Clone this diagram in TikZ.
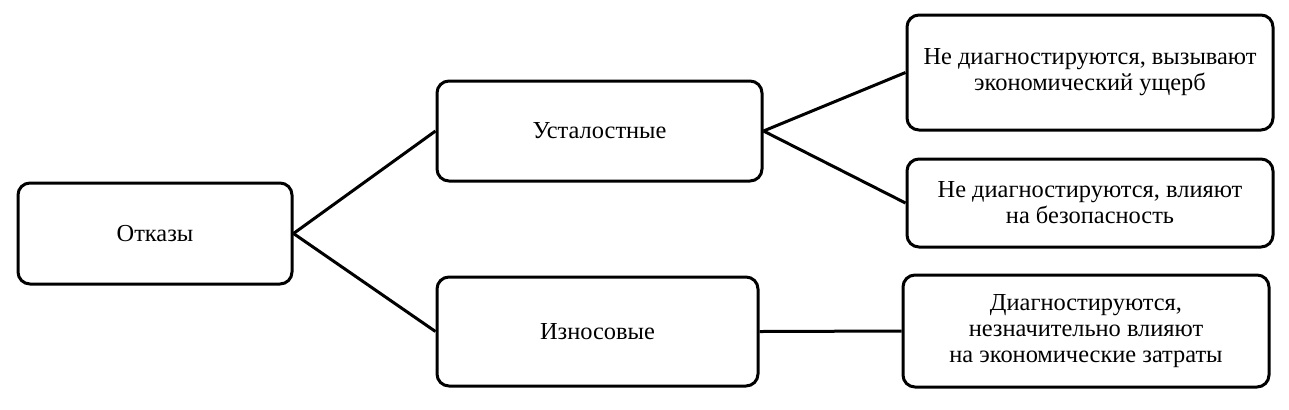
\documentclass[tikz,border=0pt]{standalone}
\usepackage{fontspec}
\setmainfont{Liberation Serif}

\begin{document}
\begin{tikzpicture}[x=0.5pt, y=-0.5pt, line width=1.5pt,
                    font=\fontsize{12.2}{13}\selectfont,
                    box/.style={draw, rectangle, rounded corners=6pt, align=center, inner sep=0pt}]
                    \useasboundingbox (0,0) rectangle (1289,409);
                    \node[box, minimum width=137pt, minimum height=50.5pt] (otkazy) at (155,233.5) {Отказы};
                    \node[box, minimum width=162.5pt, minimum height=50pt] (ustal) at (599.5,131) {Усталостные};
                    \node[box, minimum width=160.5pt, minimum height=54.5pt] (iznos) at (597.5,331.5) {Износовые};
                    \node[box, minimum width=183pt, minimum height=57.5pt] (ushcherb) at (1090,72.5) {Не диагностируются, вызывают\\экономический ущерб};
                    \node[box, minimum width=183pt, minimum height=44pt] (bezop) at (1090,203) {Не диагностируются, влияют\\на безопасность};
                    \node[box, minimum width=183pt, minimum height=56pt] (zatraty) at (1086,331) {Диагностируются,\\незначительно влияют\\на экономические затраты};
                    
                    \draw (otkazy.east) -- (ustal.west);
                    \draw (otkazy.east) -- (iznos.west);
                    \draw (ustal.east) -- (ushcherb.west);
                    \draw (ustal.east) -- (bezop.west);
                    \draw (iznos.east) -- (zatraty.west);
                \end{tikzpicture}
\end{document}
